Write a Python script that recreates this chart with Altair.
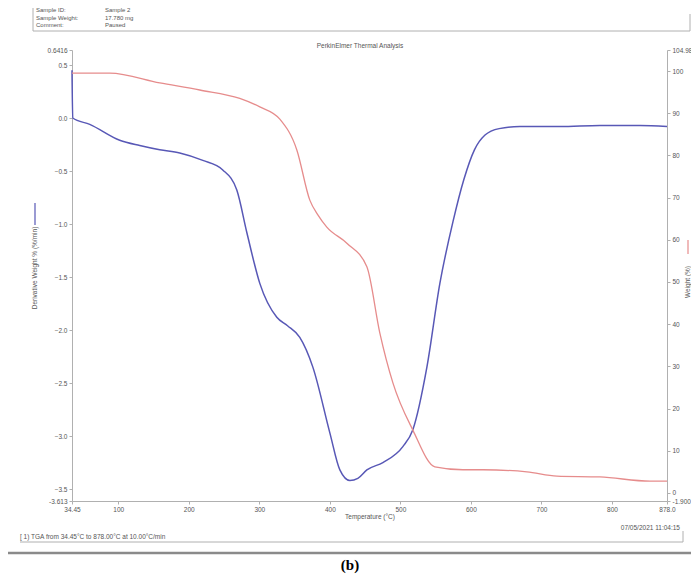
import altair as alt
import pandas as pd

# ---------------- data ----------------
temp_dtg = [34.45, 35.5, 59.6, 102.1, 130.5, 158.9, 187.2, 219.9, 248.2, 268.1, 282.3,
            300.7, 324.8, 340.0, 357.4, 375.9, 400.0, 414.2, 428.4, 439.7, 452.5,
            475.2, 503.5, 517.7, 537.6, 556.0, 574.5, 590.0, 605.0, 620.0, 640.0,
            669.5, 726.2, 783.0, 839.7, 878.0]
dtg = [0.45, 0.0, -0.06, -0.21, -0.26, -0.30, -0.33, -0.40, -0.49, -0.68, -1.08,
       -1.56, -1.88, -1.96, -2.07, -2.35, -2.97, -3.32, -3.42, -3.40, -3.32,
       -3.25, -3.10, -2.94, -2.35, -1.56, -0.98, -0.58, -0.30, -0.16, -0.10,
       -0.08, -0.08, -0.07, -0.07, -0.08]

temp_wt = [34.45, 88.0, 158.9, 215.6, 272.3, 300.7, 329.1, 353.2, 371.6, 383.0,
           395.7, 424.1, 452.5, 470.9, 489.4, 517.7, 548.9, 588.7, 617.0, 679.4,
           722.0, 783.0, 853.9, 878.0]
wt = [99.5, 99.5, 97.2, 95.5, 93.5, 91.5, 88.6, 81.3, 69.4, 65.9,
      63.0, 59.2, 53.6, 37.9, 26.1, 14.9, 6.2, 5.5, 5.5, 5.0,
      4.0, 3.8, 2.8, 2.8]

x_ticks = [34.45, 100, 200, 300, 400, 500, 600, 700, 800, 878.0]
left_ticks = [0.6416, 0.5, 0.0, -0.5, -1.0, -1.5, -2.0, -2.5, -3.0, -3.5, -3.613]
right_ticks = [104.98, 100, 90, 80, 70, 60, 50, 40, 30, 20, 10, 0, -1.9]

title_text = "PerkinElmer Thermal Analysis"
x_title = "Temperature (°C)"
left_title = "Derivative Weight % (%/min)"
right_title = "Weight (%)"
header_labels = ["Sample ID:", "Sample Weight:", "Comment:"]
header_values = ["Sample 2", "17.780 mg", "Paused"]
footer_text = "[ 1) TGA from 34.45°C to 878.00°C at 10.00°C/min"
date_text = "07/05/2021 11:04:15"
caption = "(b)"

# ---------------- chart ----------------
W, H = 595, 451
OX, OY = 72, 50  # page position of plot origin

df_dtg = pd.DataFrame({"T": temp_dtg, "D": dtg})
df_wt = pd.DataFrame({"T": temp_wt, "W": wt})

FONT = "Liberation Sans"
LBL = "#555555"
AX = "#b0b0b0"
BLUE = "#5858b6"
RED = "#e68c8c"

x_enc = alt.X("T:Q", scale=alt.Scale(domain=[34.45, 878.0], nice=False, zero=False),
              axis=alt.Axis(values=x_ticks, title=None, labelFlush=False, labelOverlap=False,
                            labelExpr="datum.value < 40 ? '34.45' : datum.value > 870 ? '878.0' : format(datum.value, 'd')"))

blue = alt.Chart(df_dtg).mark_line(color=BLUE, strokeWidth=1.5, interpolate="monotone").encode(
    x=x_enc,
    y=alt.Y("D:Q", scale=alt.Scale(domain=[-3.613, 0.6416], nice=False, zero=False),
            axis=alt.Axis(orient="left", values=left_ticks, title=None, labelOverlap=False,
                          labelFlush=False,
                          labelExpr="datum.value > 0.6 ? '0.6416' : datum.value < -3.55 ? '-3.613' : format(datum.value, '.1f')")),
)

red = alt.Chart(df_wt).mark_line(color=RED, strokeWidth=1.3, interpolate="monotone").encode(
    x=x_enc,
    y=alt.Y("W:Q", scale=alt.Scale(domain=[-1.9, 104.98], nice=False, zero=False),
            axis=alt.Axis(orient="right", values=right_ticks, title=None, labelOverlap=False,
                          labelFlush=False,
                          labelExpr="datum.value > 104 ? '104.98' : datum.value < -1 ? '-1.900' : format(datum.value, 'd')")),
)

one = pd.DataFrame({"k": [0]})


def txt(s, px, py, size=6.5, align="left", angle=0, color=LBL, weight="normal", font=FONT):
    return alt.Chart(one).mark_text(align=align, baseline="middle", fontSize=size, angle=angle,
                                    color=color, fontWeight=weight, font=font).encode(
        x=alt.value(px - OX), y=alt.value(py - OY), text=alt.value(s))


def hline(x1, x2, py, color=AX, w=1.0):
    return alt.Chart(one).mark_rule(color=color, strokeWidth=w).encode(
        x=alt.value(x1 - OX), x2=alt.value(x2 - OX), y=alt.value(py - OY))


def vline(px, y1, y2, color=AX, w=1.0):
    return alt.Chart(one).mark_rule(color=color, strokeWidth=w).encode(
        x=alt.value(px - OX), y=alt.value(y1 - OY), y2=alt.value(y2 - OY))


extras = [
    # header block
    vline(33, 8, 31), hline(33, 690, 31), vline(690, 14, 31),
    txt(header_labels[0], 36, 10, 6), txt(header_values[0], 105, 10, 6),
    txt(header_labels[1], 36, 18, 6), txt(header_values[1], 105, 18, 6),
    txt(header_labels[2], 36, 25, 6), txt(header_values[2], 105, 25, 6),
    # title
    txt(title_text, 360, 46, 6.5, align="center"),
    # axis titles
    txt(left_title, 35, 268, 6.5, align="center", angle=270),
    vline(35, 203, 225, color=BLUE, w=1.2),
    txt(right_title, 688, 282, 6.5, align="center", angle=270),
    vline(688, 240, 254, color=RED, w=1.2),
    txt(x_title, 370, 517, 6.5, align="center"),
    # footer
    txt(date_text, 680, 528, 6.5, align="right"),
    txt(footer_text, 20, 537, 6.5),
    hline(20, 683, 542), vline(683, 531, 542),
    hline(8, 691, 553, color="#8a8a8a", w=2.5),
    txt(caption, 350, 565, 15, align="center", color="#000000", weight="bold", font="Liberation Serif"),
]

chart = alt.layer(blue, red, *extras).resolve_scale(y="independent").properties(
    width=W, height=H,
    padding={"left": 64, "top": 42, "right": 24, "bottom": 75},
    autosize=alt.AutoSizeParams(type="none"),
).configure_view(stroke=None).configure_axis(
    domainColor=AX, tickColor=AX, tickSize=3, labelFontSize=6.5, labelColor=LBL,
    labelFont=FONT, grid=False, labelPadding=2
)

chart.save("out.html", embed_options={"renderer": "svg", "actions": False})
